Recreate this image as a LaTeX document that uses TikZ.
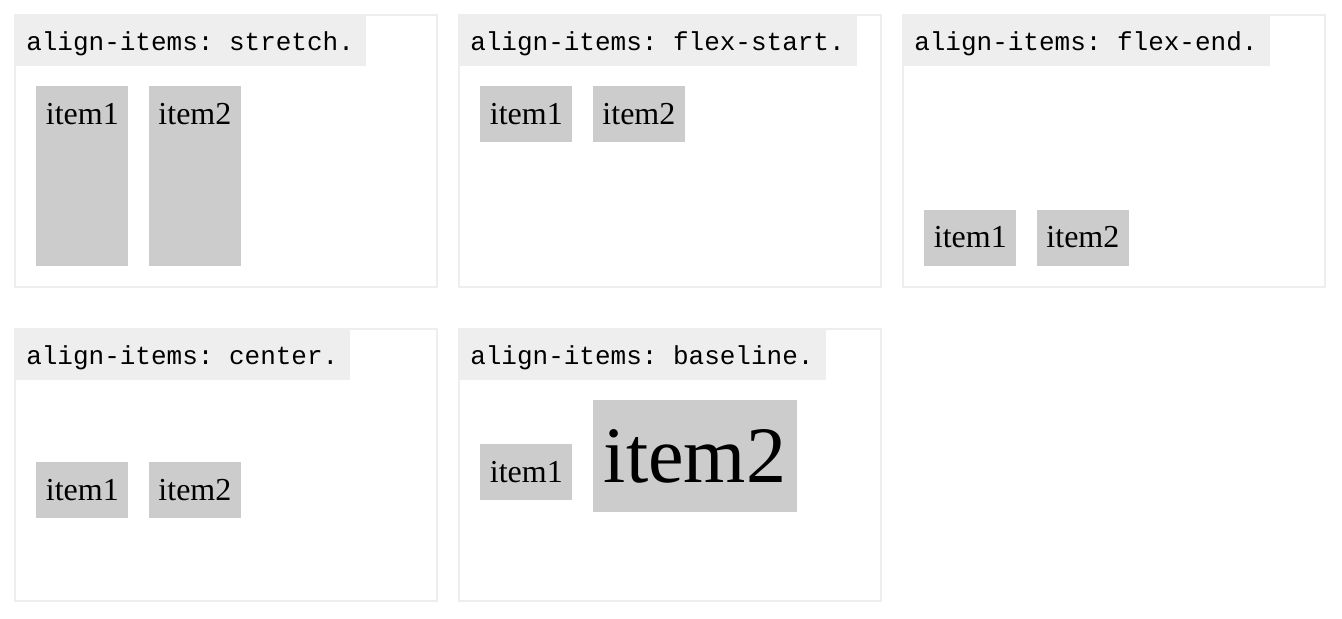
\documentclass[tikz,border=0pt]{standalone}
\usepackage{fontspec}
\setmainfont{Liberation Serif}
\newfontfamily\headfont{Liberation Mono}
\usetikzlibrary{positioning}
\definecolor{boxline}{HTML}{EEEEEE}
\definecolor{headfill}{HTML}{EEEEEE}
\definecolor{itemfill}{HTML}{CCCCCC}
\tikzstyle{panel} = [rectangle, draw=boxline, line width=1.5pt, outer sep=0.75pt,
    minimum width=316.5pt, minimum height=204pt, inner sep=0pt, anchor=north west]
\tikzstyle{header} = [rectangle, fill=headfill, inner xsep=9pt, inner ysep=0pt,
    text height=27pt, text depth=12pt, anchor=north west,
    font=\headfont\frenchspacing\fontsize{19.5pt}{23pt}\selectfont]
\tikzstyle{item} = [rectangle, fill=itemfill, inner xsep=7.2pt, inner ysep=7.5pt,
    text height=21pt, text depth=6pt, font=\fontsize{24pt}{28pt}\selectfont]
\tikzstyle{tallitem} = [item, text depth=99pt]
\tikzstyle{bigitem} = [item, inner xsep=8.2pt, text height=54pt, text depth=15pt,
    font=\fontsize{60pt}{69pt}\selectfont]

\begin{document}
\begin{tikzpicture}[x=0.75pt, y=-0.75pt]
    \useasboundingbox (0,0) rectangle (1342,618);
    % Place panels
    \node [panel] (Stretch) at (14,14) {};
    \node [panel] (FlexStart) at (458,14) {};
    \node [panel] (FlexEnd) at (902,14) {};
    \node [panel] (Center) at (14,328) {};
    \node [panel] (Baseline) at (458,328) {};
    % Headers
    \node [header] (StretchHead) at (Stretch.north west) {align-items: stretch.};
    \node [header] (FlexStartHead) at (FlexStart.north west) {align-items: flex-start.};
    \node [header] (FlexEndHead) at (FlexEnd.north west) {align-items: flex-end.};
    \node [header] (CenterHead) at (Center.north west) {align-items: center.};
    \node [header] (BaselineHead) at (Baseline.north west) {align-items: baseline.};
    % Items
    \node [tallitem, below right=54pt and 16.5pt of Stretch.north west] (StretchA) {item1};
    \node [tallitem, right=15pt of StretchA] (StretchB) {item2};
    \node [item, below right=54pt and 16.5pt of FlexStart.north west] (FlexStartA) {item1};
    \node [item, right=15pt of FlexStartA] (FlexStartB) {item2};
    \node [item, above right=16.5pt and 16.5pt of FlexEnd.south west] (FlexEndA) {item1};
    \node [item, right=15pt of FlexEndA] (FlexEndB) {item2};
    \node [item, below right=100.5pt and 16.5pt of Center.north west] (CenterA) {item1};
    \node [item, right=15pt of CenterA] (CenterB) {item2};
    \node [item, below right=87pt and 16.5pt of Baseline.north west] (BaselineA) {item1};
    \node [bigitem, right=15pt of BaselineA.base east, anchor=base west] (BaselineB) {item2};
\end{tikzpicture}
\end{document}
